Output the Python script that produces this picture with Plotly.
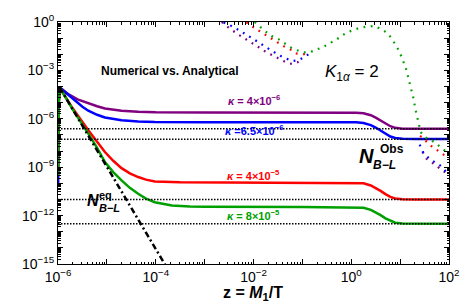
import plotly.graph_objects as go

# ---------------- data (log10 values) ----------------
purple_logz = [-6.0, -5.985, -5.965, -5.8, -5.6, -5.38, -5.2, -5.04, -4.7, -4.36, -4.0, -3.0, -1.0, 0.1,
               0.25, 0.4, 0.5, 0.6, 0.7, 0.8, 0.9, 1.05, 1.3, 2.0]
purple_logN = [-10.0, -5.0, -4.06, -4.45, -4.8, -5.05, -5.22, -5.36, -5.5, -5.57, -5.6, -5.61, -5.61, -5.62,
               -5.66, -5.78, -5.93, -6.11, -6.3, -6.46, -6.56, -6.61, -6.62, -6.62]

blue_logz = [-6.0, -5.985, -5.965, -5.8, -5.65, -5.5, -5.38, -5.2, -5.04, -4.7, -4.36, -4.02, -3.0, -1.0, 0.1,
             0.25, 0.4, 0.5, 0.6, 0.7, 0.8, 0.9, 1.05, 1.3, 2.0]
blue_logN = [-10.0, -5.0, -4.06, -4.5, -4.88, -5.25, -5.5, -5.75, -5.92, -6.09, -6.16, -6.2, -6.21, -6.21, -6.22,
             -6.26, -6.39, -6.54, -6.73, -6.93, -7.1, -7.19, -7.24, -7.25, -7.25]

red_logz = [-6.0, -5.985, -5.965, -5.7, -5.38, -5.2, -5.04, -4.87, -4.7, -4.53, -4.36, -4.2, -4.02, -3.5, -3.0,
            -1.0, 0.1, 0.25, 0.4, 0.5, 0.6, 0.7, 0.8, 0.9, 1.05, 1.3, 2.0]
red_logN = [-9.0, -5.0, -4.06, -5.35, -6.71, -7.45, -8.06, -8.6, -9.06, -9.38, -9.61, -9.77, -9.88, -9.93, -9.94,
            -9.95, -9.96, -10.0, -10.13, -10.28, -10.47, -10.67, -10.84, -10.94, -10.99, -11.0, -11.0]

green_logz = [-6.0, -5.985, -5.965, -5.7, -5.38, -5.2, -5.04, -4.87, -4.7, -4.53, -4.36, -4.2, -4.02, -3.67,
              -3.3, -2.99, -1.0, 0.1, 0.25, 0.4, 0.5, 0.6, 0.7, 0.8, 0.9, 1.05, 1.3, 2.0]
green_logN = [-9.5, -5.0, -4.06, -5.42, -6.92, -7.8, -8.68, -9.3, -9.82, -10.28, -10.65, -10.95, -11.17, -11.37,
              -11.43, -11.45, -11.46, -11.47, -11.51, -11.64, -11.79, -11.97, -12.17, -12.33, -12.44, -12.49,
              -12.5, -12.5]

eq_logz = [-5.965, -4.9, -3.7]
eq_logN = [-4.06, -9.5, -15.6]

obs_logN = [-6.62, -7.27, -11.0, -12.5]

green_dot_logz = [-2.2, -1.97, -1.85, -1.75, -1.63, -1.49, -1.36, -1.26, -1.12, -0.98, -0.85, -0.70, -0.57,
                  -0.44, -0.30, -0.10, 0.04, 0.18, 0.31, 0.48, 0.61, 0.72, 0.82, 0.96, 1.03, 1.12, 1.16, 1.22,
                  1.27, 1.31, 1.36, 1.39, 1.42, 1.50, 1.64, 1.74, 1.85, 1.95, 2.0]
green_dot_logN = [0.6, -0.02, -0.39, -0.60, -0.87, -1.06, -1.32, -1.54, -1.74, -1.88, -1.88, -1.70, -1.54,
                  -1.32, -1.08, -0.66, -0.50, -0.35, -0.29, -0.25, -0.45, -0.64, -0.98, -1.70, -2.16, -2.88,
                  -3.36, -4.02, -4.70, -5.36, -5.98, -6.40, -6.82, -7.13, -7.33, -7.54, -7.81, -8.06, -8.12]

red_dot_logz = [-2.25, -2.11, -1.97, -1.80, -1.63, -1.49, -1.36, -1.22, -1.12, -0.97, -0.85, None,
                1.41, 1.54, 1.64, 1.74, 1.87, 2.0]
red_dot_logN = [0.3, -0.12, -0.39, -0.70, -1.01, -1.29, -1.54, -1.74, -1.95, -1.99, -1.91, None,
                -7.05, -7.44, -7.69, -7.91, -8.20, -8.45]

blue_dot_logz = [-2.75, -2.48, -2.3, -2.1, -1.9, -1.75, -1.6, -1.45, -1.3, -1.2, -1.09, -0.97, -0.85, None,
                 1.40, 1.47, 1.61, 1.73, 1.85, 1.96, 2.0]
blue_dot_logN = [0.15, -0.2, -0.5, -0.85, -1.25, -1.55, -1.85, -2.1, -2.3, -2.42, -2.38, -2.2, -1.95, None,
                 -7.6, -8.08, -8.51, -8.72, -8.95, -9.37, -9.45]

purple_dot_logz = [-2.65, -2.48, -2.3, -2.1, -1.9, -1.75, -1.6, -1.45, -1.3, -1.2, -1.1, -1.02, None,
                   1.46, 1.54, 1.64, 1.76, 1.88, 2.0]
purple_dot_logN = [0.0, -0.42, -0.8, -1.15, -1.55, -1.85, -2.1, -2.35, -2.55, -2.6, -2.5, -2.32, None,
                   -8.05, -8.47, -8.68, -8.95, -9.20, -9.5]

x_tick_exp = [-6, -5, -4, -3, -2, -1, 0, 1, 2]
x_tick_text = ["10<sup>−6</sup>", "", "10<sup>−4</sup>", "", "10<sup>−2</sup>", "", "10<sup>0</sup>", "",
               "10<sup>2</sup>"]
y_tick_exp = list(range(-15, 1))
y_tick_text = ["10<sup>−15</sup>", "", "", "10<sup>−12</sup>", "", "", "10<sup>−9</sup>", "", "",
               "10<sup>−6</sup>", "", "", "10<sup>−3</sup>", "", "", "10<sup>0</sup>"]


def lin(vals):
    return [None if v is None else 10 ** v for v in vals]


PURPLE = "#800080"
BLUE = "#0000ff"
RED = "#ff0000"
GREEN = "#00a000"

fig = go.Figure()
for zz, nn, col in [(purple_logz, purple_logN, PURPLE), (blue_logz, blue_logN, BLUE),
                    (red_logz, red_logN, RED), (green_logz, green_logN, GREEN)]:
    fig.add_trace(go.Scatter(x=lin(zz), y=lin(nn), mode="lines", line=dict(color=col, width=2.5)))

fig.add_trace(go.Scatter(x=lin(eq_logz), y=lin(eq_logN), mode="lines",
                         line=dict(color="black", width=2.5, dash="6px,3px,2px,3px")))

for lv in obs_logN:
    fig.add_trace(go.Scatter(x=[1e-6, 1e2], y=[10 ** lv, 10 ** lv], mode="lines",
                             line=dict(color="black", width=1.5, dash="1.5px,1.5px")))

for zz, nn, col in [(purple_dot_logz, purple_dot_logN, PURPLE), (blue_dot_logz, blue_dot_logN, BLUE),
                    (red_dot_logz, red_dot_logN, RED), (green_dot_logz, green_dot_logN, GREEN)]:
    fig.add_trace(go.Scatter(x=lin(zz), y=lin(nn), mode="lines", connectgaps=False,
                             line=dict(color=col, width=2.2, dash="1.8px,5.5px")))

# minor ticks (2..9 per decade)
x_minor = [m * 10 ** e for e in range(-6, 2) for m in range(2, 10)]
y_minor = [m * 10 ** e for e in range(-15, 0) for m in range(2, 10)]

axis_common = dict(type="log", ticks="inside", ticklen=5, tickwidth=1, tickcolor="black",
                   showline=True, linecolor="black", linewidth=1, mirror="allticks",
                   showgrid=False, zeroline=False, tickmode="array",
                   tickfont=dict(size=14, color="black"))

fig.update_xaxes(range=[-6, 2], tickvals=[10 ** e for e in x_tick_exp], ticktext=x_tick_text,
                 minor=dict(tickmode="array", tickvals=x_minor, ticks="inside", ticklen=2.5,
                            tickcolor="black", showgrid=False), **axis_common)
fig.update_yaxes(range=[-15, 0], tickvals=[10 ** e for e in y_tick_exp], ticktext=y_tick_text,
                 minor=dict(tickmode="array", tickvals=y_minor, ticks="inside", ticklen=2.5,
                            tickcolor="black", showgrid=False), **axis_common)

# page pixel layout (the html body adds an 8px offset)
OFF = 8
W, H = 472 - OFF, 307 - OFF
L, R, T, B = 58, 449, 22, 264  # plot area in page pixels


def px(x, y):
    return (x - L) / (R - L), (B - y) / (B - T)


def note(text, x, y, size, color="black", xanchor="center"):
    xp, yp = px(x, y)
    fig.add_annotation(text=text, x=xp, y=yp, xref="paper", yref="paper", showarrow=False,
                       xanchor=xanchor, yanchor="middle", font=dict(size=size, color=color),
                       borderpad=0)


note("<b>Numerical vs. Analytical</b>", 100, 71, 12, xanchor="left")
note("<i>K</i><sub>1<i>α</i></sub> = 2", 352, 73, 17)
note("<b><i>κ</i> = 4×10<sup>−6</sup></b>", 254, 100, 11, PURPLE)
note("<b><i>κ</i> =6.5×10<sup>−6</sup></b>", 254, 130, 11, BLUE)
note("<b><i>κ</i> = 4×10<sup>−5</sup></b>", 253, 174.5, 11, RED)
note("<b><i>κ</i> = 8×10<sup>−5</sup></b>", 253, 215, 11, GREEN)

note("<b><i>N</i></b>", 358, 155.5, 20, xanchor="left")
note("<b>Obs</b>", 379, 148.5, 12, xanchor="left")
note("<b><i>B−L</i></b>", 372, 164.5, 12, xanchor="left")

note("<b><i>N</i></b>", 86, 200.5, 16, xanchor="left")
note("<b>eq</b>", 98, 194.5, 11, xanchor="left")
note("<b><i>B−L</i></b>", 97.5, 208, 11, xanchor="left")

note("<b>z = <i>M</i><sub>1</sub>/T</b>", 253, 293, 16)

fig.update_layout(width=W, height=H,
                  margin=dict(l=L - OFF, r=W - (R - OFF), t=T - OFF, b=H - (B - OFF), autoexpand=False),
                  paper_bgcolor="white", plot_bgcolor="white", showlegend=False,
                  hovermode=False, font=dict(family="Liberation Sans, Arial, sans-serif", color="black"))

fig.write_html("out.html")
